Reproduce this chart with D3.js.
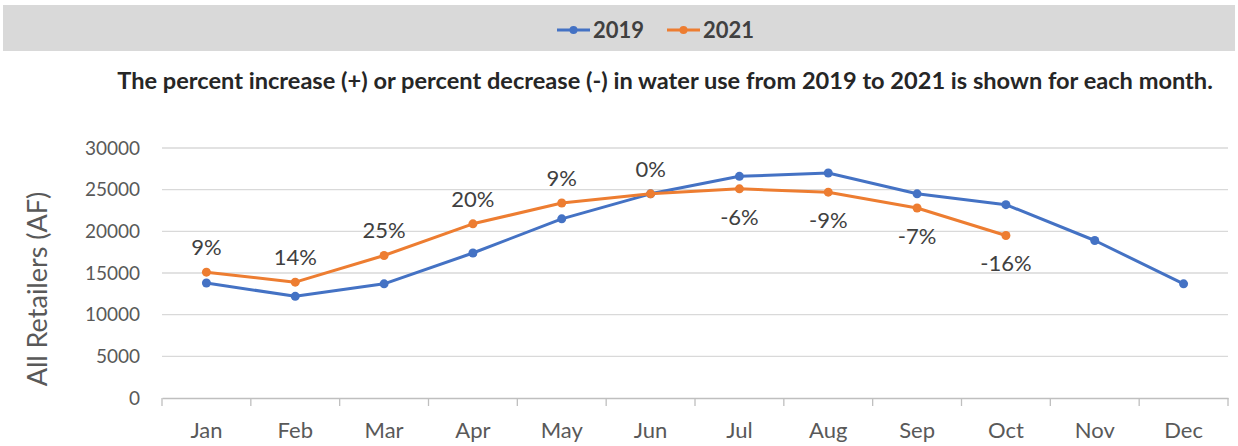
<!DOCTYPE html>
<html><head><meta charset="utf-8">
<script src="https://cdn.jsdelivr.net/npm/d3@7"></script>
<style>body{margin:0;background:#fff}svg{display:block}</style>
</head><body><svg id="c" width="1238" height="446"></svg>
<script>
const months = ["Jan","Feb","Mar","Apr","May","Jun","Jul","Aug","Sep","Oct","Nov","Dec"];
const values2019 = [13800,12200,13700,17400,21500,24500,26600,27000,24500,23200,18900,13700];
const values2021 = [15100,13900,17100,20900,23400,24500,25100,24700,22800,19500];
const pctLabels = ["9%","14%","25%","20%","9%","0%","-6%","-9%","-7%","-16%"];
const yTicks = [0,5000,10000,15000,20000,25000,30000];
const seriesNames = ["2019","2021"];
const colors = ["#4472C4","#ED7D31"];
const FONT = "Lato, 'Open Sans', sans-serif";

const svg = d3.select("#c");
const x = d3.scaleBand().domain(months).range([162,1228]);
const y = d3.scaleLinear().domain([0,30000]).range([398,148]);

// legend band
svg.append("rect").attr("x",3).attr("y",5).attr("width",1232).attr("height",46).attr("fill","#d9d9d9");
const leg = svg.append("g");
const legX = [557,667];
seriesNames.forEach((n,i)=>{
  const g = leg.append("g").attr("transform",`translate(${legX[i]},30)`);
  g.append("line").attr("x1",0).attr("x2",33).attr("stroke",colors[i]).attr("stroke-width",3);
  g.append("circle").attr("cx",16.5).attr("r",4).attr("fill",colors[i]);
  g.append("text").attr("x",36).attr("y",7.5).attr("font-family",FONT).attr("font-weight","bold")
    .attr("font-size",22).attr("fill","#404040").text(n);
});

// title, sized to span the same width as the reference
const title = svg.append("text").attr("x",665).attr("y",89).attr("text-anchor","middle").attr("font-family",FONT)
  .attr("font-weight","bold").attr("font-size",20).attr("fill","#262626")
  .text("The percent increase (+) or percent decrease (-) in water use from 2019 to 2021 is shown for each month.");
const tw = title.node().getComputedTextLength();
title.attr("font-size", 20*1096/tw);

// gridlines
svg.append("g").selectAll("line").data(yTicks.filter(d=>d>0)).join("line")
  .attr("x1",162).attr("x2",1228).attr("y1",d=>y(d)).attr("y2",d=>y(d))
  .attr("stroke","#d9d9d9").attr("stroke-width",1.3);

// y axis
const ya = svg.append("g").attr("transform","translate(162,0)")
  .call(d3.axisLeft(y).tickValues(yTicks).tickSize(0).tickPadding(22).tickFormat(d3.format("d")));
ya.select(".domain").remove();
ya.selectAll("text").attr("font-family",FONT).attr("font-size",19).attr("fill","#595959");

// x axis
const xa = svg.append("g").attr("transform","translate(0,398)")
  .call(d3.axisBottom(x).tickSize(0).tickPadding(24));
xa.select(".domain").attr("stroke","#bfbfbf").attr("stroke-width",1.3);
xa.selectAll("text").attr("font-family",FONT).attr("font-size",22).attr("fill","#595959");
const bounds = months.map(m=>x(m)).concat([x.range()[1]]);
xa.append("g").selectAll("line").data(bounds).join("line")
  .attr("x1",d=>d).attr("x2",d=>d).attr("y1",0).attr("y2",8).attr("stroke","#bfbfbf").attr("stroke-width",1.3);

// series
const cx = (i)=>x(months[i])+x.bandwidth()/2;
[values2019, values2021].forEach((vals,si)=>{
  const line = d3.line().x((d,i)=>cx(i)).y(d=>y(d));
  svg.append("path").datum(vals).attr("d",line).attr("fill","none")
    .attr("stroke",colors[si]).attr("stroke-width",3).attr("stroke-linejoin","round");
  svg.append("g").selectAll("circle").data(vals).join("circle")
    .attr("cx",(d,i)=>cx(i)).attr("cy",d=>y(d)).attr("r",4.5).attr("fill",colors[si]);
});

// percent labels
svg.append("g").selectAll("text").data(pctLabels).join("text")
  .attr("x",(d,i)=>cx(i))
  .attr("y",(d,i)=> y(values2021[i]) + (d.startsWith("-") ? 28 : -25))
  .attr("dy","0.35em").attr("text-anchor","middle").attr("font-family",FONT)
  .attr("font-size",22).attr("fill","#404040").text(d=>d);

// y label
svg.append("text").attr("transform","translate(47,289) rotate(-90)").attr("text-anchor","middle")
  .attr("font-family",FONT).attr("font-size",27).attr("fill","#595959").text("All Retailers (AF)");
</script></body></html>
